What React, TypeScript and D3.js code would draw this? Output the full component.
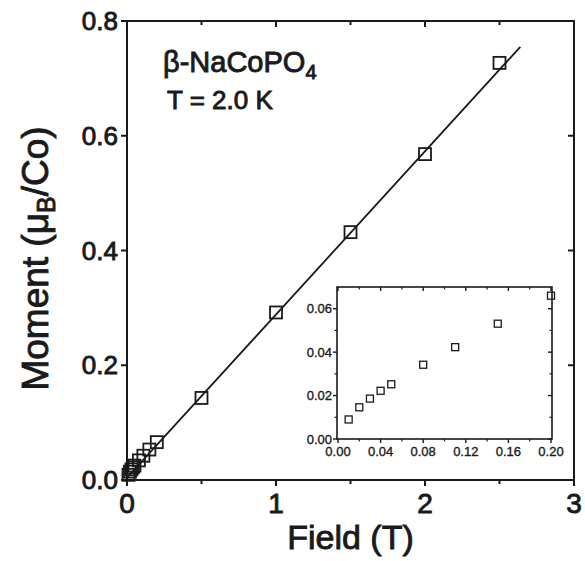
import React from "react";
import * as d3 from "d3";

// measured data (Field in T, Moment in muB/Co)
const fieldValues = [0.01, 0.02, 0.03, 0.04, 0.05, 0.08, 0.11, 0.15, 0.2, 0.5, 1.0, 1.5, 2.0, 2.5];
const momentValues = [0.009, 0.0146, 0.0186, 0.0222, 0.0252, 0.0342, 0.0423, 0.0531, 0.066, 0.143, 0.292, 0.432, 0.568, 0.727];
// linear fit line end points
const fitField = [0, 2.64];
const fitMoment = [0.004, 0.755];

const mainXTicks = [0, 1, 2, 3];
const mainXMinor = [0.5, 1.5, 2.5];
const mainYTicks = [0, 0.2, 0.4, 0.6, 0.8];
const insetXTicks = [0, 0.04, 0.08, 0.12, 0.16, 0.2];
const insetXMinor = [0.02, 0.06, 0.1, 0.14, 0.18];
const insetYTicks = [0, 0.02, 0.04, 0.06];
const insetYMinor = [0.01, 0.03, 0.05];

const font = "'Liberation Sans', Arial, sans-serif";
const ink = "#1a1a1a";

export default function App() {
  const x = d3.scaleLinear().domain([0, 3]).range([127, 574]);
  const y = d3.scaleLinear().domain([0, 0.8]).range([480, 21]);
  const ix = d3.scaleLinear().domain([0, 0.2]).range([338, 551]);
  const iy = d3.scaleLinear().domain([0, 0.07]).range([439, 287]);

  const fitLine = d3
    .line<number>()
    .x((d) => x(d))
    .y((d, i) => y(fitMoment[i]));

  const points = fieldValues.map((f, i) => ({ f, m: momentValues[i] }));
  const insetPoints = points.filter((p) => p.f <= 0.2);

  const [x0, x1] = x.range();
  const [y0, y1] = y.range();
  const [ix0, ix1] = [ix.range()[0] - 1, ix.range()[1] + 1];
  const [iy0, iy1] = iy.range();

  // scanned look: regular glyphs with a thin outline
  const big = { fill: ink, stroke: ink, strokeWidth: 0.9 };
  const small = { fill: ink, stroke: ink, strokeWidth: 0.35 };

  return (
    <svg
      width={585}
      height={561}
      style={{ position: "absolute", left: 0, top: 0, background: "#fff" }}
      fontFamily={font}
    >
      {/* main frame */}
      <rect x={x0} y={y1} width={x1 - x0} height={y0 - y1} fill="none" stroke={ink} strokeWidth={2} />

      {/* bottom / top ticks */}
      {mainXTicks.map((t) => (
        <g key={"bx" + t}>
          <line x1={x(t)} x2={x(t)} y1={y0} y2={y0 + 6} stroke={ink} strokeWidth={2} />
          <line x1={x(t)} x2={x(t)} y1={y1} y2={y1 + 6} stroke={ink} strokeWidth={2} />
          <text x={x(t)} y={y0 + 33} textAnchor="middle" fontSize={28} {...big}>
            {t}
          </text>
        </g>
      ))}
      {mainXMinor.map((t) => (
        <g key={"bm" + t}>
          <line x1={x(t)} x2={x(t)} y1={y0} y2={y0 + 4} stroke={ink} strokeWidth={2} />
          <line x1={x(t)} x2={x(t)} y1={y1} y2={y1 + 4} stroke={ink} strokeWidth={2} />
        </g>
      ))}
      {/* left / right ticks */}
      {mainYTicks.map((t) => (
        <g key={"ly" + t}>
          <line x1={x0 - 6} x2={x0} y1={y(t)} y2={y(t)} stroke={ink} strokeWidth={2} />
          <line x1={x1 - 6} x2={x1} y1={y(t)} y2={y(t)} stroke={ink} strokeWidth={2} />
          <text x={x0 - 9} y={y(t) + 9} textAnchor="end" fontSize={26} {...big}>
            {d3.format(".1f")(t)}
          </text>
        </g>
      ))}

      {/* axis titles */}
      <text x={(x0 + x1) / 2} y={549} textAnchor="middle" fontSize={34} {...big}>
        Field (T)
      </text>
      <text
        transform={`translate(48,${(y0 + y1) / 2 + 8}) rotate(-90)`}
        textAnchor="middle"
        fontSize={37}
        {...big}
      >
        Moment  (μ<tspan fontSize={25} dy={7}>B</tspan>
        <tspan dy={-7}>/Co)</tspan>
      </text>

      {/* annotation */}
      <text x={163} y={72} fontSize={29} {...big}>
        β-NaCoPO<tspan fontSize={20} dy={7}>4</tspan>
      </text>
      <text x={167} y={109} fontSize={26} {...big}>
        T = 2.0 K
      </text>

      {/* fit line */}
      <path d={fitLine(fitField) || ""} fill="none" stroke={ink} strokeWidth={1.8} />

      {/* main points */}
      {points.map((p, i) => (
        <rect
          key={"p" + i}
          x={x(p.f) - 6}
          y={y(p.m) - 6}
          width={12}
          height={12}
          fill="none"
          stroke={ink}
          strokeWidth={1.8}
        />
      ))}

      {/* inset */}
      <rect x={ix0} y={iy1} width={ix1 - ix0} height={iy0 - iy1} fill="#fff" stroke={ink} strokeWidth={1.6} />
      {insetXTicks.map((t) => (
        <g key={"ix" + t}>
          <line x1={ix(t)} x2={ix(t)} y1={iy0} y2={iy0 + 4} stroke={ink} strokeWidth={1.4} />
          <line x1={ix(t)} x2={ix(t)} y1={iy1} y2={iy1 + 4} stroke={ink} strokeWidth={1.4} />
          <text x={ix(t)} y={iy0 + 17} textAnchor="middle" fontSize={13} {...small}>
            {d3.format(".2f")(t)}
          </text>
        </g>
      ))}
      {insetXMinor.map((t) => (
        <g key={"ixm" + t}>
          <line x1={ix(t)} x2={ix(t)} y1={iy0} y2={iy0 + 2.5} stroke={ink} strokeWidth={1.2} />
          <line x1={ix(t)} x2={ix(t)} y1={iy1} y2={iy1 + 2.5} stroke={ink} strokeWidth={1.2} />
        </g>
      ))}
      {insetYTicks.map((t) => (
        <g key={"iy" + t}>
          <line x1={ix0 - 4} x2={ix0} y1={iy(t)} y2={iy(t)} stroke={ink} strokeWidth={1.4} />
          <line x1={ix1 - 4} x2={ix1} y1={iy(t)} y2={iy(t)} stroke={ink} strokeWidth={1.4} />
          <text x={ix0 - 5} y={iy(t) + 4.5} textAnchor="end" fontSize={13} {...small}>
            {d3.format(".2f")(t)}
          </text>
        </g>
      ))}
      {insetYMinor.map((t) => (
        <g key={"iym" + t}>
          <line x1={ix0 - 2.5} x2={ix0} y1={iy(t)} y2={iy(t)} stroke={ink} strokeWidth={1.2} />
          <line x1={ix1 - 2.5} x2={ix1} y1={iy(t)} y2={iy(t)} stroke={ink} strokeWidth={1.2} />
        </g>
      ))}
      {insetPoints.map((p, i) => (
        <rect
          key={"ip" + i}
          x={ix(p.f) - 3.5}
          y={iy(p.m) - 3.5}
          width={7}
          height={7}
          fill="none"
          stroke={ink}
          strokeWidth={1.3}
        />
      ))}
    </svg>
  );
}
